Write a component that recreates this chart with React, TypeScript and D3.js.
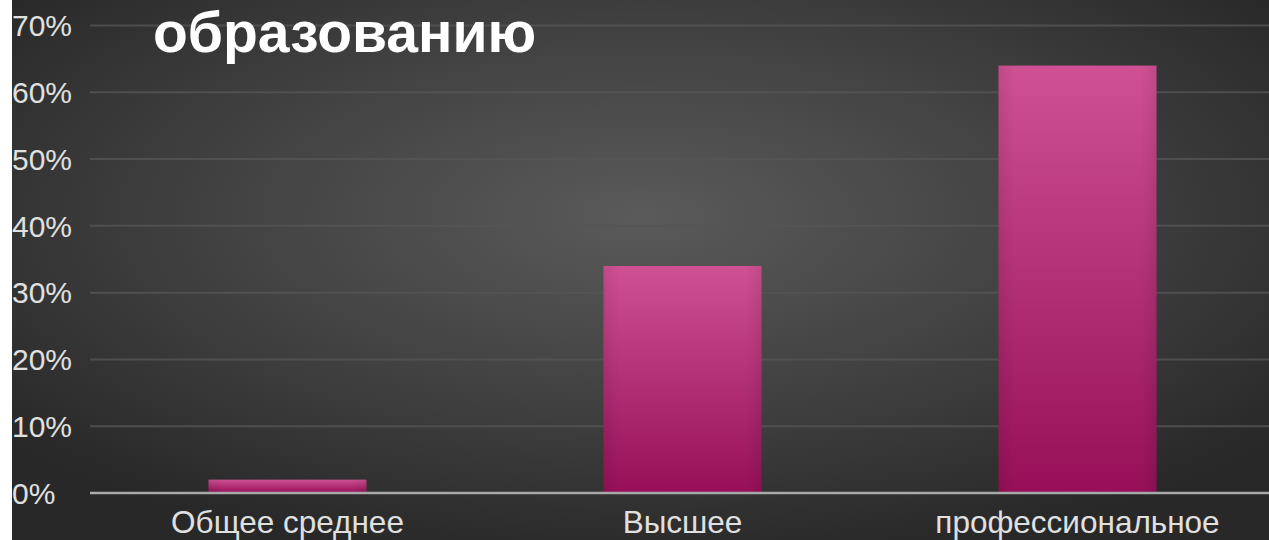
import React from "react";
import * as d3 from "d3";

const categories = ["Общее среднее", "Высшее", "профессиональное"];
const values = [0.02, 0.34, 0.64];
const yTicks = [0, 0.1, 0.2, 0.3, 0.4, 0.5, 0.6, 0.7];
const title = "образованию";

const W = 1269;
const H = 540;

export default function App() {
  const x = d3.scaleBand<string>().domain(categories).range([90, 1275]).paddingInner(0.6).paddingOuter(0.3);
  const y = d3.scaleLinear().domain([0, 0.7]).range([493, 25.5]);
  const fmt = d3.format(".0%");
  const font = "'Liberation Sans', Arial, sans-serif";
  return (
    <svg width={W} height={H} style={{ position: "absolute", left: 0, top: 0, display: "block" }}>
      <defs>
        <radialGradient id="bg" cx="0.5" cy="0.4" r="0.65" fx="0.5" fy="0.4">
          <stop offset="0" stopColor="#5a5a5a" />
          <stop offset="0.55" stopColor="#404040" />
          <stop offset="1" stopColor="#282828" />
        </radialGradient>
        <linearGradient id="bar" x1="0" y1="0" x2="0" y2="1">
          <stop offset="0" stopColor="#cf5193" />
          <stop offset="1" stopColor="#960f58" />
        </linearGradient>
        <linearGradient id="barEdge" x1="0" y1="0" x2="1" y2="0">
          <stop offset="0" stopColor="#000" stopOpacity="0.08" />
          <stop offset="0.1" stopColor="#000" stopOpacity="0" />
          <stop offset="0.9" stopColor="#000" stopOpacity="0" />
          <stop offset="1" stopColor="#000" stopOpacity="0.08" />
        </linearGradient>
      </defs>
      <rect x={0} y={0} width={W} height={H} fill="#fff" />
      <rect x={12} y={0} width={W - 12} height={H} fill="url(#bg)" />
      {yTicks.slice(1).map((t) => (
        <line key={t} x1={90} x2={W} y1={y(t)} y2={y(t)} stroke="#555" strokeOpacity={0.8} strokeWidth={2} />
      ))}
      {values.map((v, i) => {
        const bx = x(categories[i])!;
        const by = y(v);
        const bh = y(0) - by;
        return (
          <g key={i}>
            <rect x={bx} y={by} width={x.bandwidth()} height={bh} fill="url(#bar)" />
            <rect x={bx} y={by} width={x.bandwidth()} height={bh} fill="url(#barEdge)" />
          </g>
        );
      })}
      <line x1={90} x2={W} y1={y(0)} y2={y(0)} stroke="#a9a9a9" strokeWidth={2.5} />
      {yTicks.map((t) => (
        <text key={t} x={12} y={y(t)} dy="0.36em" fill="#e0e0e0" fontFamily={font} fontSize={30}>
          {fmt(t)}
        </text>
      ))}
      {categories.map((c) => (
        <text key={c} x={x(c)! + x.bandwidth() / 2} y={533} textAnchor="middle" fill="#e0e0e0" fontFamily={font} fontSize={31.5}>
          {c}
        </text>
      ))}
      <text x={153} y={52} fill="#ffffff" fontFamily={font} fontWeight="bold" fontSize={57}>
        {title}
      </text>
    </svg>
  );
}
